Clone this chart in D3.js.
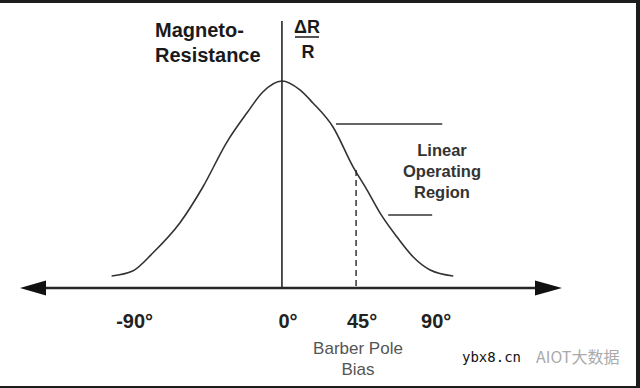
<!DOCTYPE html>
<html><head><meta charset="utf-8">
<script src="https://cdn.jsdelivr.net/npm/d3@7"></script>
<style>html,body{margin:0;padding:0;background:#fff;}svg{display:block;}</style>
</head><body>
<script>
// Data (angle in degrees, normalized magnetoresistance dR/R)
const curveAngles = [-103.4, -90.6, -78.4, -62.0, -48.0, -33.4, -21.3, -11.6, 0, 10.9, 18.8, 31.0, 43.2, 51.7, 59.6, 69.9, 79.7, 90.0, 104.0];
const curveValues = [0.058, 0.082, 0.169, 0.314, 0.488, 0.705, 0.845, 0.947, 1.0, 0.957, 0.894, 0.778, 0.585, 0.473, 0.362, 0.246, 0.150, 0.087, 0.058];
const tickValues = [-90, 0, 45, 90];
const tickLabels = ["-90°", "0°", "45°", "90°"];
const biasAngle = 45;
const biasValue = 0.57;
const regionUpper = {from: 32.8, to: 97.3, value: 0.792};
const regionLower = {from: 64.5, to: 91.2, value: 0.353};
const yTitle = ["Magneto-", "Resistance"];
const regionLabel = ["Linear", "Operating", "Region"];
const xTitle = ["Barber Pole", "Bias"];

const W = 640, H = 388;
const svg = d3.select("body").append("svg").attr("width", W).attr("height", H);
svg.append("rect").attr("width", W).attr("height", H).attr("fill", "#fff");

const x = d3.scaleLinear().domain([-159, 170]).range([20, 562]);
const y = d3.scaleLinear().domain([0, 1]).range([288, 81]);
const ink = "#262626";

// curve
const pts = curveAngles.map((a, i) => [a, curveValues[i]]);
svg.append("path").datum(pts)
  .attr("d", d3.line().x(d => x(d[0])).y(d => y(d[1])).curve(d3.curveMonotoneX))
  .attr("fill", "none").attr("stroke", "#333").attr("stroke-width", 1.6);

// vertical axis
svg.append("line").attr("x1", x(0)).attr("x2", x(0)).attr("y1", 21).attr("y2", y(0))
  .attr("stroke", ink).attr("stroke-width", 1.6);

// dashed bias line
svg.append("line").attr("x1", x(biasAngle)).attr("x2", x(biasAngle))
  .attr("y1", y(biasValue)).attr("y2", y(0))
  .attr("stroke", ink).attr("stroke-width", 1.4).attr("stroke-dasharray", "6,4");

// horizontal axis with arrows
const [xl, xr] = x.range();
svg.append("line").attr("x1", xl + 20).attr("x2", xr - 20).attr("y1", y(0)).attr("y2", y(0))
  .attr("stroke", ink).attr("stroke-width", 2.6);
svg.append("path").attr("d", `M${xl},${y(0)} L${xl + 26},${y(0) - 7.5} L${xl + 26},${y(0) + 7.5} Z`).attr("fill", "#111");
svg.append("path").attr("d", `M${xr},${y(0)} L${xr - 27},${y(0) - 7.5} L${xr - 27},${y(0) + 7.5} Z`).attr("fill", "#111");

// tick labels
svg.selectAll("text.tick").data(tickValues).enter().append("text")
  .attr("x", (d, i) => x(d) + (d < 0 ? 1 : 6)).attr("y", 328)
  .attr("text-anchor", "middle")
  .attr("font-family", "Liberation Sans, Arial, sans-serif").attr("font-weight", "bold")
  .attr("font-size", 20).attr("fill", "#222")
  .text((d, i) => tickLabels[i]);

// x title
svg.selectAll("text.xt").data(xTitle).enter().append("text")
  .attr("x", 358).attr("y", (d, i) => 354 + i * 21).attr("text-anchor", "middle")
  .attr("font-family", "Liberation Sans, Arial, sans-serif").attr("font-size", 17).attr("fill", "#555")
  .text(d => d);

// y title
svg.selectAll("text.yt").data(yTitle).enter().append("text")
  .attr("x", 155).attr("y", (d, i) => 37 + i * 25)
  .attr("font-family", "Liberation Sans, Arial, sans-serif").attr("font-weight", "bold")
  .attr("font-size", 20).attr("fill", "#1a1a1a")
  .text(d => d);

// dR / R
const fr = svg.append("g").attr("font-family", "Liberation Sans, Arial, sans-serif").attr("font-weight", "bold").attr("font-size", 18).attr("fill", "#1a1a1a");
fr.append("text").attr("x", 307).attr("y", 33).attr("text-anchor", "middle").text("ΔR");
fr.append("line").attr("x1", 295).attr("x2", 319).attr("y1", 37).attr("y2", 37).attr("stroke", "#1a1a1a").attr("stroke-width", 1.5);
fr.append("text").attr("x", 308).attr("y", 58).attr("text-anchor", "middle").text("R");

// linear region markers
[regionUpper, regionLower].forEach(r => {
  svg.append("line").attr("x1", x(r.from)).attr("x2", x(r.to)).attr("y1", y(r.value)).attr("y2", y(r.value))
    .attr("stroke", "#333").attr("stroke-width", 1.6);
});
svg.selectAll("text.rl").data(regionLabel).enter().append("text")
  .attr("x", 442).attr("y", (d, i) => 156 + i * 21).attr("text-anchor", "middle")
  .attr("font-family", "Liberation Sans, Arial, sans-serif").attr("font-weight", "bold")
  .attr("font-size", 16.5).attr("fill", "#333")
  .text(d => d);

// watermark
svg.append("text").attr("x", 462).attr("y", 362)
  .attr("font-family", "DejaVu Sans Mono, monospace").attr("font-size", 14).attr("fill", "#111").text("ybx8.cn");
svg.append("text").attr("x", 536).attr("y", 363)
  .attr("font-family", "Noto Sans CJK SC, sans-serif").attr("font-size", 16).attr("fill", "#aaa").text("AIOT大数据");

// frame
svg.append("rect").attr("x", 0).attr("y", 0).attr("width", W).attr("height", 3).attr("fill", "#1c1c1c");
svg.append("rect").attr("x", 636).attr("y", 0).attr("width", 4).attr("height", H).attr("fill", "#1c1c1c");
svg.append("rect").attr("x", 0).attr("y", 386).attr("width", W).attr("height", 2).attr("fill", "#1c1c1c");
</script>
</body></html>
